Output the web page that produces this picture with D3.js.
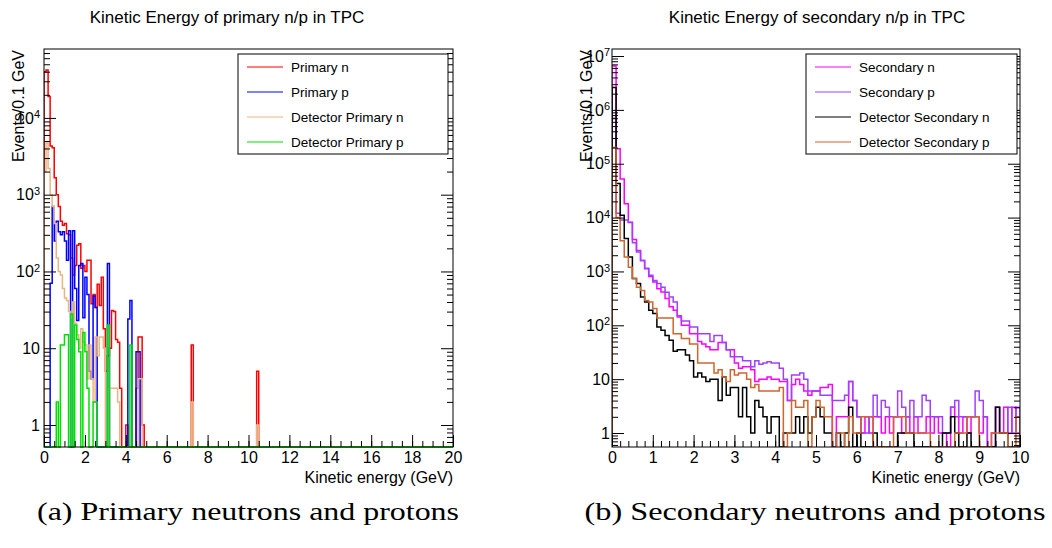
<!DOCTYPE html>
<html>
<head>
<meta charset="utf-8">
<script src="https://cdn.jsdelivr.net/npm/d3@7/dist/d3.min.js"></script>
<style>
    body { margin: 0; background: #fff; }
    svg { display: block; font-family: "Liberation Sans", Arial, Helvetica, sans-serif; }
</style>
</head>
<body>
<div id="chart"></div>
<script>
// Kinetic energy of primary / secondary n and p in the TPC (two ROOT-style log histograms)

const binWidth = 0.1; // GeV

// ---- panel (a): counts per 0.1 GeV bin from 0 to 5 GeV
const primaryNames = ['Primary n', 'Primary p', 'Detector Primary n', 'Detector Primary p'];
const primaryColors = ['#ff0000', '#0000ff', '#e8b684', '#00e000'];
const primaryN = [40000, 42000, 19000, 4300, 4100, 1660, 1000, 700, 450, 400,
    420, 310, 300, 150, 90, 120, 220, 230, 110, 120,
    100, 140, 140, 38, 50, 34, 68, 36, 84, 18,
    5, 8, 10, 31, 30, 13, 12, 3, 0, 0,
    1, 0, 0, 0, 0, 3, 14, 14, 1, 0];
const primaryP = [0, 0, 0, 70, 700, 250, 450, 330, 300, 330,
    250, 140, 340, 0, 340, 60, 23, 120, 127, 25,
    84, 50, 5, 4, 48, 34, 0, 0, 0, 0,
    0, 127, 0, 0, 0, 0, 0, 0, 0, 0,
    0, 24, 42, 0, 0, 9, 9, 0, 0, 0];
const detPrimaryN = [2000, 4700, 2200, 1000, 700, 420, 150, 100, 90, 60,
    45, 42, 30, 25, 40, 21, 15, 10, 18, 12,
    11, 4, 11, 4, 2, 14, 8, 14, 14, 10,
    0, 0, 3, 3, 3, 3, 2, 0, 0, 0,
    0, 0, 0, 0, 0, 0, 4, 4, 0, 0];
const detPrimaryP = [0, 0, 0, 0, 0, 0, 2, 0, 11, 11,
    15, 15, 0, 28, 0, 20, 13, 9, 0, 16,
    9, 3, 0, 0, 2, 2, 0, 0, 0, 0,
    0, 20, 0, 0, 0, 0, 0, 0, 0, 0,
    0, 0, 11, 0, 0, 0, 0, 0, 0, 0];
// isolated bins above 5 GeV: [energy of bin low edge, count]
const primaryNTail = [[7.2, 11], [10.4, 5]];
const detPrimaryNTail = [[7.2, 2], [10.4, 1]];

// ---- panel (b): counts per 0.1 GeV bin from 0 to 10 GeV
const secondaryNames = ['Secondary n', 'Secondary p', 'Detector Secondary n', 'Detector Secondary p'];
const secondaryColors = ['#ff00ff', '#a040ff', '#000000', '#d0652e'];
const secondaryN = [6.5e6, 1.9e5, 5.2e4, 1.8e4, 8100, 3900, 2450, 1600, 1120, 810,
    635, 475, 415, 315, 220, 190, 142, 100, 100, 70,
    70, 50, 45, 40, 35, 35, 48, 48, 35, 35,
    20, 16, 17, 17, 15, 9, 10, 10, 11, 10,
    10, 9, 9, 4, 8, 10, 8, 6, 5, 6,
    6, 7, 7, 8, 0, 2, 2, 2, 9, 4,
    2, 1, 2, 1, 2, 2, 1, 2, 1, 2,
    2, 1, 2, 1, 2, 1, 1, 2, 1, 2,
    1, 1, 0, 3, 2, 1, 2, 1, 2, 2,
    1, 2, 0, 1, 3, 1, 3, 1, 3, 1];
const secondaryP = [7e5, 1.2e4, 9000, 9000, 8200, 3400, 2300, 1600, 1150, 850,
    680, 600, 510, 410, 335, 270, 150, 120, 120, 93,
    93, 70, 70, 70, 50, 65, 65, 48, 35, 26,
    26, 26, 22, 22, 17, 22, 19, 20, 21, 20,
    20, 16, 10, 4, 12, 12, 13, 10, 6, 6,
    6, 5, 5, 5, 4, 4, 4, 5, 9, 4,
    2, 1, 1, 2, 5, 2, 4, 3, 2, 2,
    6, 3, 2, 4, 2, 2, 5, 4, 2, 2,
    2, 1, 1, 3, 4, 2, 2, 2, 2, 6,
    4, 2, 0, 0, 3, 1, 1, 3, 1, 3];
const detSecondaryN = [2.6e6, 4.3e4, 1.1e4, 4100, 1850, 740, 600, 335, 270, 190,
    166, 93, 81, 65, 53, 33, 35, 35, 28, 22,
    11, 13, 11, 9, 10, 10, 4, 11, 5, 7,
    7, 2, 7, 2, 1, 4, 3, 2, 1, 2,
    2, 0, 1, 1, 1, 2, 1, 2, 1, 2,
    3, 2, 1, 1, 0, 1, 0, 1, 3, 0,
    1, 0, 0, 0, 1, 0, 0, 0, 0, 0,
    1, 1, 1, 1, 0, 0, 0, 0, 0, 0,
    0, 1, 1, 2, 1, 0, 0, 1, 0, 0,
    0, 0, 0, 0, 3, 1, 1, 0, 0, 0];
const detSecondaryP = [2e5, 1e4, 3700, 1850, 1200, 740, 510, 445, 290, 270,
    205, 136, 136, 136, 136, 70, 70, 57, 57, 45,
    45, 20, 20, 20, 20, 13, 15, 11, 9, 15,
    12, 13, 13, 10, 7, 8, 6, 6, 6, 6,
    6, 7, 0, 1, 4, 3, 3, 4, 0, 2,
    4, 3, 2, 2, 0, 1, 1, 0, 2, 1,
    1, 2, 2, 2, 0, 0, 0, 0, 0, 2,
    2, 2, 1, 1, 1, 1, 1, 1, 0, 0,
    0, 0, 0, 0, 1, 1, 1, 2, 2, 2,
    0, 0, 0, 1, 1, 1, 1, 0, 0, 2];

const width = 1052;
const height = 548;

function expandBins(values, tail, nBins) {
    const bins = d3.range(nBins).map(i => values[i] || 0);
    (tail || []).forEach(([e, v]) => { bins[Math.round(e / binWidth)] = v; });
    return bins;
}

const svg = d3.select('#chart').append('svg')
    .attr('width', width)
    .attr('height', height);

function drawPanel(p) {
    const { left, right, top, bottom } = p.frame;
    const x = d3.scaleLinear().domain(p.xDomain).range([left, right]);
    const y = d3.scaleLog().domain(p.yDomain).range([bottom, top]);
    const nBins = Math.round((p.xDomain[1] - p.xDomain[0]) / binWidth);

    const g = svg.append('g');

    // Title
    g.append('text')
        .attr('x', p.titleX)
        .attr('y', 23)
        .attr('text-anchor', 'middle')
        .style('font-size', '17px')
        .text(p.title);

    // Histograms, clipped to the frame
    const clipId = 'clip-' + p.id;
    svg.append('clipPath').attr('id', clipId)
        .append('rect')
        .attr('x', left).attr('y', top)
        .attr('width', right - left).attr('height', bottom - top + p.clipExtra);

    const hg = g.append('g').attr('clip-path', `url(#${clipId})`);
    const yMin = p.yDomain[0];
    p.series.forEach(s => {
        const bins = expandBins(s.values, s.tail, nBins);
        let d = `M${x(0)},${y(yMin)}`;
        bins.forEach((v, i) => {
            d += `V${y(Math.max(v, yMin))}H${x((i + 1) * binWidth)}`;
        });
        d += `V${y(yMin)}`;
        hg.append('path')
            .attr('d', d)
            .attr('fill', 'none')
            .attr('stroke', s.color)
            .attr('stroke-width', 1.5);
    });

    // Frame
    g.append('rect')
        .attr('x', left).attr('y', top)
        .attr('width', right - left).attr('height', bottom - top)
        .attr('fill', 'none')
        .attr('stroke', '#000')
        .attr('stroke-width', 1);

    // Y ticks (decades + minor), left side with labels, right side mirrored
    const decades = [];
    const minors = [];
    for (let k = -1; k <= 8; k++) {
        for (let m = 1; m <= 9; m++) {
            const v = m * Math.pow(10, k);
            if (v < p.yDomain[0] || v > p.yDomain[1]) continue;
            if (m === 1) decades.push(v); else minors.push(v);
        }
    }

    const yAxis = g.append('g')
        .attr('transform', `translate(${left},0)`)
        .call(d3.axisLeft(y).tickValues(decades).tickSizeInner(-12).tickSizeOuter(0).tickPadding(4));
    g.append('g')
        .attr('transform', `translate(${left},0)`)
        .call(d3.axisLeft(y).tickValues(minors).tickSizeInner(-6).tickSizeOuter(0).tickFormat(''));
    g.append('g')
        .attr('transform', `translate(${right},0)`)
        .call(d3.axisRight(y).tickValues(decades).tickSizeInner(-12).tickSizeOuter(0).tickFormat(''));
    g.append('g')
        .attr('transform', `translate(${right},0)`)
        .call(d3.axisRight(y).tickValues(minors).tickSizeInner(-6).tickSizeOuter(0).tickFormat(''));

    yAxis.selectAll('.tick text').each(function(v) {
        const k = Math.round(Math.log10(v));
        const t = d3.select(this).text('');
        if (k < 2) {
            t.text(d3.format('d')(v));
        } else {
            t.append('tspan').text('10');
            t.append('tspan').attr('dy', '-0.5em').style('font-size', '11px').text(k);
        }
    });
    yAxis.selectAll('.tick text')
        .attr('x', p.yLabelX - left)
        .style('font-size', '16px')
        .attr('fill', '#000');

    // X ticks
    const xAxis = g.append('g')
        .attr('transform', `translate(0,${bottom})`)
        .call(d3.axisBottom(x).tickValues(d3.range(p.xDomain[0], p.xDomain[1] + 1e-9, p.xMajor))
            .tickSizeInner(-12).tickSizeOuter(0).tickPadding(5).tickFormat(d3.format('d')));
    g.append('g')
        .attr('transform', `translate(0,${bottom})`)
        .call(d3.axisBottom(x).tickValues(d3.range(p.xDomain[0], p.xDomain[1] + 1e-9, p.xMinor))
            .tickSizeInner(-6).tickSizeOuter(0).tickFormat(''));
    xAxis.selectAll('.tick text')
        .attr('y', 5)
        .style('font-size', '16px')
        .attr('fill', '#000');

    g.selectAll('.domain').remove();
    g.selectAll('.tick line').attr('stroke', '#000');

    // Axis titles
    g.append('text')
        .attr('x', right)
        .attr('y', 483)
        .attr('text-anchor', 'end')
        .style('font-size', '16px')
        .text('Kinetic energy (GeV)');

    g.append('text')
        .attr('transform', `translate(${p.yTitleX},${top + 1}) rotate(-90)`)
        .attr('text-anchor', 'end')
        .style('font-size', '16px')
        .text('Events/0.1 GeV');

    // Legend
    const lg = g.append('g').attr('transform', `translate(${p.legend.x},${p.legend.y})`);
    lg.append('rect')
        .attr('width', p.legend.w).attr('height', 100)
        .attr('fill', '#fff')
        .attr('stroke', '#000')
        .attr('stroke-width', 1);
    p.series.forEach((s, i) => {
        const cy = 13 + i * 25;
        lg.append('line')
            .attr('x1', 9).attr('x2', 45)
            .attr('y1', cy).attr('y2', cy)
            .attr('stroke', s.color)
            .attr('stroke-width', 1.2);
        lg.append('text')
            .attr('x', 53)
            .attr('y', cy + 4.5)
            .style('font-size', '13.5px')
            .text(s.name);
    });

    // Caption below the panel
    svg.append('text')
        .attr('x', p.captionX)
        .attr('y', 520)
        .attr('text-anchor', 'middle')
        .style('font-family', '"Liberation Serif", "DejaVu Serif", serif')
        .style('font-size', '25px')
        .attr('textLength', p.captionLength)
        .attr('lengthAdjust', 'spacingAndGlyphs')
        .text(p.caption);
}

const primaryValues = [primaryN, primaryP, detPrimaryN, detPrimaryP];
const primaryTails = [primaryNTail, null, detPrimaryNTail, null];
const secondaryValues = [secondaryN, secondaryP, detSecondaryN, detSecondaryP];

drawPanel({
    id: 'a',
    frame: { left: 44, right: 453, top: 49, bottom: 447 },
    xDomain: [0, 20], xMajor: 2, xMinor: 0.5,
    yDomain: [0.517, 7.9e4],
    yLabelX: 40,
    yTitleX: 24,
    clipExtra: 2,
    title: 'Kinetic Energy of primary n/p in TPC',
    titleX: 227,
    legend: { x: 238, y: 54, w: 210 },
    caption: '(a) Primary neutrons and protons',
    captionX: 248, captionLength: 422,
    series: primaryNames.map((name, i) => ({
        name, color: primaryColors[i], values: primaryValues[i], tail: primaryTails[i]
    }))
});

drawPanel({
    id: 'b',
    frame: { left: 612, right: 1020, top: 49, bottom: 447 },
    xDomain: [0, 10], xMajor: 1, xMinor: 0.2,
    yDomain: [0.55, 1.35e7],
    yLabelX: 610,
    yTitleX: 592,
    clipExtra: 0,
    title: 'Kinetic Energy of secondary n/p in TPC',
    titleX: 817,
    legend: { x: 806, y: 54, w: 211 },
    caption: '(b) Secondary neutrons and protons',
    captionX: 815, captionLength: 461,
    series: secondaryNames.map((name, i) => ({
        name, color: secondaryColors[i], values: secondaryValues[i], tail: null
    }))
});
</script>
</body>
</html>
